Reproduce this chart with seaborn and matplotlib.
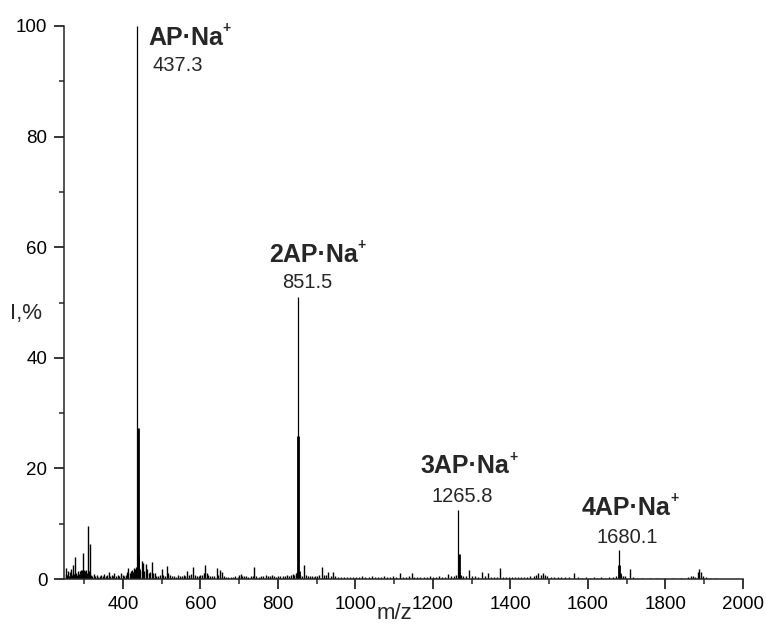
import numpy as np
import pandas as pd
import seaborn as sns
import matplotlib.pyplot as plt
from matplotlib.ticker import MultipleLocator

# main sodium adduct peaks
ion_names = ["AP", "2AP", "3AP", "4AP"]
peak_mz = [437.3, 851.5, 1265.8, 1680.1]
peak_int = [100.0, 51.0, 12.5, 5.3]

# isotope lines next to the main peaks
iso_mz = [438.3, 439.3, 440.2, 852.5, 853.5, 1266.8, 1267.7, 1681.1, 1682.0]
iso_int = [27.3, 4.2, 1.8, 25.8, 1.5, 4.5, 1.2, 2.5, 1.0]

# small peaks / noise
minor_mz = [252, 254, 256, 258, 261, 263, 265, 268, 270, 272, 274, 276, 279, 281, 284,
            287, 289, 291, 293, 295, 298, 300, 302, 305, 307, 310, 313, 315, 318, 321,
            324, 328, 332, 336, 340, 344, 348, 352, 356, 360, 363, 367, 371, 375, 378,
            382, 386, 390, 395, 399, 403, 407, 411, 414, 417, 420, 423, 426, 429, 431,
            433, 435, 442, 445, 448, 452, 455, 459, 462, 466, 470, 474, 478, 482, 486,
            490, 495, 500, 504, 508, 513, 517, 521, 526, 531, 536, 541, 546, 552, 557,
            561, 566, 570, 575, 580, 585, 590, 595, 600, 605, 609, 612, 616, 620, 625,
            630, 636, 642, 646, 650, 655, 660, 666, 672, 678, 684, 690, 696, 700, 704,
            708, 713, 718, 724, 730, 735, 739, 744, 750, 756, 762, 768, 774, 780, 786,
            791, 796, 800, 806, 812, 818, 823, 828, 833, 838, 842, 846, 849, 855, 858,
            862, 867, 872, 877, 882, 887, 892, 897, 902, 907, 913, 918, 923, 930, 936,
            942, 948, 955, 962, 970, 978, 986, 994, 1002, 1010, 1018, 1026, 1034, 1042, 1050,
            1058, 1066, 1074, 1082, 1090, 1098, 1106, 1115, 1122, 1130, 1138, 1145, 1152, 1160, 1168,
            1176, 1184, 1192, 1200, 1208, 1216, 1224, 1232, 1240, 1248, 1255, 1260, 1272, 1278, 1285,
            1294, 1300, 1308, 1316, 1326, 1334, 1342, 1350, 1358, 1366, 1373, 1380, 1388, 1396, 1404,
            1412, 1420, 1428, 1436, 1444, 1452, 1460, 1466, 1472, 1478, 1484, 1490, 1496, 1504, 1512,
            1522, 1532, 1542, 1552, 1565, 1575, 1585, 1595, 1605, 1615, 1625, 1635, 1645, 1655, 1665,
            1672, 1686, 1690, 1696, 1708, 1716, 1726, 1740, 1760, 1780, 1800, 1820, 1840, 1860, 1866,
            1872, 1878, 1884, 1887, 1893, 1898, 1904, 1915, 1930]
minor_int = [0.9, 2.0, 0.7, 1.4, 0.6, 1.2, 1.8, 0.8, 1.1, 2.5, 0.9, 3.9, 1.0, 0.7, 1.4,
             0.9, 1.5, 1.6, 1.5, 1.6, 4.7, 1.7, 1.5, 1.6, 1.0, 9.5, 1.5, 6.3, 0.8, 0.6,
             0.9, 0.5, 0.7, 0.4, 0.6, 0.8, 0.5, 0.9, 0.6, 0.7, 1.2, 0.5, 0.8, 0.6, 1.0,
             0.5, 0.7, 0.6, 1.0, 0.7, 0.5, 0.8, 1.2, 1.9, 1.1, 1.4, 1.6, 1.3, 2.0, 1.8,
             2.2, 1.5, 2.0, 1.5, 3.2, 2.9, 1.4, 2.7, 1.8, 1.0, 1.3, 3.1, 1.1, 1.1, 0.6,
             0.5, 0.7, 1.8, 0.8, 0.6, 2.3, 1.0, 0.7, 0.5, 0.6, 0.4, 0.7, 0.5, 0.6, 0.8,
             0.6, 1.5, 0.7, 0.9, 2.2, 0.8, 0.6, 0.5, 0.8, 0.7, 1.0, 2.6, 1.0, 0.7, 0.5,
             0.6, 0.5, 1.9, 0.8, 1.6, 1.2, 0.5, 0.4, 0.3, 0.4, 0.3, 0.5, 0.4, 0.7, 0.9,
             0.6, 0.5, 0.6, 0.4, 0.5, 0.6, 2.2, 0.5, 0.4, 0.5, 0.6, 0.7, 0.5, 0.6, 0.7,
             0.5, 0.4, 0.6, 0.5, 0.6, 0.5, 0.7, 0.6, 0.8, 0.9, 0.7, 1.0, 1.2, 1.0, 0.7,
             0.6, 2.6, 0.8, 0.5, 0.6, 0.5, 0.4, 0.5, 0.6, 0.8, 2.2, 0.7, 0.8, 1.2, 0.6,
             1.2, 0.5, 0.3, 0.3, 0.4, 0.3, 0.4, 0.3, 0.4, 0.3, 0.5, 0.3, 0.4, 0.6, 0.3,
             0.4, 0.3, 0.5, 0.4, 0.3, 0.6, 0.4, 1.1, 0.4, 0.3, 0.5, 1.0, 0.4, 0.3, 0.3,
             0.4, 0.3, 0.5, 0.4, 0.3, 0.5, 0.3, 0.4, 0.9, 0.5, 0.6, 0.8, 0.7, 0.5, 0.6,
             1.6, 0.5, 0.6, 0.4, 1.2, 0.5, 1.0, 0.4, 0.3, 0.4, 1.9, 0.4, 0.3, 0.3, 0.4,
             0.3, 0.4, 0.3, 0.4, 0.3, 0.5, 0.6, 0.8, 1.0, 0.7, 1.1, 0.8, 0.5, 0.4, 0.3,
             0.3, 0.4, 0.3, 0.3, 1.1, 0.3, 0.2, 0.3, 0.2, 0.3, 0.2, 0.3, 0.2, 0.3, 0.4,
             0.6, 0.8, 0.6, 0.5, 1.8, 0.3, 0.2, 0.2, 0.2, 0.2, 0.2, 0.2, 0.2, 0.4, 0.5,
             0.6, 0.4, 1.2, 1.8, 1.2, 0.5, 0.3, 0.2, 0.2]

sns.set_style("ticks")
plt.rcParams['font.family'] = ['Liberation Sans', 'DejaVu Sans']

spec = pd.DataFrame({"mz": peak_mz + iso_mz + minor_mz,
                     "I": peak_int + iso_int + minor_int,
                     "kind": ["main"] * len(peak_mz) + ["iso"] * len(iso_mz) + ["minor"] * len(minor_mz)})

fig = plt.figure(figsize=(7.66, 6.24), dpi=100)
ax = fig.add_axes([64 / 766, 45 / 624, 678.7 / 766, 553 / 624])

lw = {"main": 0.9, "iso": 2.0, "minor": 1.0}
for kind, d in spec.groupby("kind"):
    ax.vlines(d["mz"], 0, d["I"], color="black", linewidth=lw[kind])

ax.set_xlim(247.7, 2000)
ax.set_ylim(0, 100)
ax.xaxis.set_major_locator(MultipleLocator(200))
ax.xaxis.set_minor_locator(MultipleLocator(100))
ax.yaxis.set_major_locator(MultipleLocator(20))
ax.yaxis.set_minor_locator(MultipleLocator(10))
ax.tick_params(which="major", direction="out", length=7, width=1.1, labelsize=13.5, pad=5, colors="black")
ax.tick_params(which="minor", direction="out", length=3.5, width=1.1)
for s in ["left", "bottom"]:
    ax.spines[s].set_linewidth(1.1)
sns.despine(ax=ax)

# label placement for each peak (name baseline, value baseline)
name_pos = [(561, 96.6), (891, 57.4), (1282, 19.1), (1699, 11.6)]
val_pos = [(540.6, 91.9), (875, 52.6), (1276, 14.0), (1701, 6.45)]
for n, mz, (nx, ny), (vx, vy) in zip(ion_names, peak_mz, name_pos, val_pos):
    t = ax.text(nx, ny, n + "·Na", fontsize=18, fontweight="bold",
                ha="center", va="baseline")
    ax.annotate("+", xy=(1, 1), xycoords=t, xytext=(0, -4.5), textcoords="offset points",
                fontsize=10, fontweight="bold", ha="left", va="baseline")
    ax.text(vx, vy, f"{mz:.1f}", fontsize=14.5, ha="center", va="baseline")

ax.text(150, 48, "I,%", fontsize=16, ha="center", va="center", clip_on=False)
ax.text(1100, -6.3, "m/z", fontsize=16, ha="center", va="center", clip_on=False)

fig.savefig("out.png", dpi=100)
